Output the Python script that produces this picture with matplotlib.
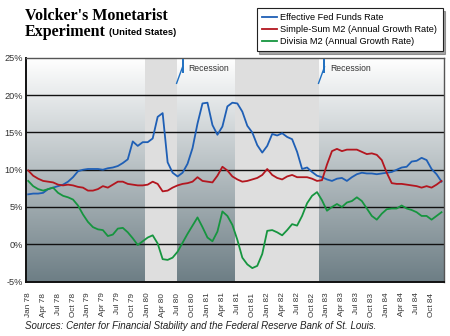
"""Volcker's monetarist experiment: fed funds rate vs M2 growth, 1978-1984."""

import matplotlib
matplotlib.use("Agg")
import matplotlib.pyplot as plt
import numpy as np

# Monthly values, Jan 1978 .. Dec 1984 (percent).
fed_funds = [6.7, 6.8, 6.8, 6.9, 7.4, 7.6, 7.8, 8.0, 8.4, 9.0, 9.8, 10.0,
             10.1, 10.1, 10.1, 10.0, 10.2, 10.3, 10.5, 10.9, 11.4, 13.8, 13.2, 13.7,
             13.7, 14.2, 17.1, 17.6, 11.0, 9.6, 9.1, 9.6, 10.8, 12.9, 16.2, 18.9,
             19.0, 16.0, 14.7, 15.8, 18.5, 19.0, 18.9, 17.8, 15.9, 15.0, 13.3, 12.3,
             13.2, 14.8, 14.6, 14.9, 14.4, 14.1, 12.4, 10.1, 10.3, 9.7, 9.2, 9.0,
             8.7, 8.5, 8.8, 8.9, 8.5, 9.0, 9.4, 9.6, 9.5, 9.5, 9.4, 9.5,
             9.6, 9.7, 10.0, 10.3, 10.4, 11.1, 11.2, 11.6, 11.3, 10.1, 9.4, 8.4]
simple_sum_m2 = [9.9, 9.2, 8.8, 8.5, 8.4, 8.3, 8.0, 7.9, 8.0, 7.9, 7.7, 7.6,
                 7.2, 7.2, 7.4, 7.8, 7.6, 8.0, 8.4, 8.4, 8.1, 8.0, 7.9, 7.9,
                 8.0, 8.4, 8.1, 7.1, 7.2, 7.6, 7.9, 8.1, 8.2, 8.4, 9.0, 8.5,
                 8.4, 8.3, 9.2, 10.4, 9.9, 9.1, 8.7, 8.4, 8.5, 8.7, 8.9, 9.3,
                 10.1, 9.3, 8.9, 8.7, 9.1, 9.3, 9.0, 9.0, 9.0, 8.8, 8.5, 8.6,
                 10.7, 12.5, 12.8, 12.5, 12.7, 12.7, 12.7, 12.4, 12.1, 12.2, 12.0, 11.3,
                 9.6, 8.2, 8.1, 8.1, 8.0, 7.9, 7.8, 7.6, 7.8, 7.6, 8.0, 8.5]
divisia_m2 = [8.5, 7.8, 7.4, 7.2, 7.4, 7.6, 6.9, 6.5, 6.3, 6.0, 5.2, 4.0,
              3.0, 2.3, 2.0, 1.9, 1.1, 1.3, 2.1, 2.2, 1.6, 0.8, -0.1, 0.4,
              0.9, 1.2, 0.1, -2.0, -2.1, -1.8, -1.0, 0.2, 1.4, 2.5, 3.6, 2.3,
              0.9, 0.4, 1.7, 4.4, 3.8, 2.6, 0.6, -1.8, -2.7, -3.2, -2.9, -1.3,
              1.8, 1.9, 1.6, 1.2, 1.9, 2.7, 2.5, 3.8, 5.5, 6.5, 7.0, 5.9,
              4.5, 5.0, 5.4, 5.0, 5.6, 5.8, 6.3, 5.8, 4.8, 3.8, 3.3, 4.1,
              4.7, 4.8, 4.8, 5.2, 4.8, 4.6, 4.3, 3.8, 3.8, 3.3, 3.8, 4.3]

quarter_names = ["Jan", "Apr", "Jul", "Oct"]
years = ["78", "79", "80", "81", "82", "83", "84"]
tick_labels = [f"{q} {y}" for y in years for q in quarter_names]
# Recessions as (start, end) month offsets from Jan 1978
recessions = [(23.5, 29.8), (41.5, 58.3)]
y_ticks = [-5, 0, 5, 10, 15, 20, 25]

SANS = ["Liberation Sans", "DejaVu Sans"]


def main() -> None:
    months = np.arange(len(fed_funds))
    fig = plt.figure(figsize=(4.5, 3.36), dpi=100)
    ax = fig.add_axes([0.0571, 0.1622, 0.9296, 0.6652])

    # white-to-slate background gradient
    gradient = np.linspace(0, 1, 256).reshape(-1, 1)
    top = np.array([1.0, 1.0, 1.0])
    bottom = np.array([0x6d, 0x7e, 0x85]) / 255
    colours = top + (bottom - top) * gradient
    ax.imshow(colours[:, None, :], extent=[0, 1, 0, 1], transform=ax.transAxes,
              aspect="auto", zorder=0, interpolation="bilinear")

    for start, end in recessions:
        ax.axvspan(start, end, color="#dedede", zorder=1, linewidth=0)
    for value in y_ticks[1:-1]:
        ax.axhline(value, color="#111111", linewidth=1.0, zorder=2)

    ax.plot(months, fed_funds, color="#1f5fb5", linewidth=1.3, zorder=3,
            label="Effective Fed Funds Rate")
    ax.plot(months, simple_sum_m2, color="#b3161f", linewidth=1.3, zorder=3,
            label="Simple-Sum M2 (Annual Growth Rate)")
    ax.plot(months, divisia_m2, color="#16953f", linewidth=1.3, zorder=3,
            label="Divisia M2 (Annual Growth Rate)")

    # "Recession" labels with the little blue flag marks
    for start, end in recessions:
        x = end + 1.2
        ax.plot([end, x], [21.6, 23.8], color="#1f6fc0", linewidth=1.0,
                zorder=4)
        ax.plot([x, x], [23.1, 24.7], color="#1f6fc0", linewidth=1.4, zorder=4)
        ax.text(x + 1.1, 23.6, "Recession", fontsize=6.2, family=SANS,
                color="#333333", va="center", ha="left", zorder=4)

    ax.set_xlim(-0.5, 83.5)
    ax.set_ylim(-5, 25)
    ax.set_yticks(y_ticks)
    ax.set_yticklabels([f"{v}%" for v in y_ticks], fontsize=6.6, family=SANS,
                       color="#333333")
    ax.set_xticks(np.arange(0, len(months), 3))
    ax.set_xticklabels(tick_labels, rotation=90, fontsize=5.9, family=SANS,
                       color="#333333")
    ax.tick_params(length=0, pad=2)
    ax.tick_params(axis="x", pad=8)
    for side in ("left", "bottom"):
        ax.spines[side].set_color("#111111")
        ax.spines[side].set_linewidth(1.4)
    for side in ("top", "right"):
        ax.spines[side].set_color("#555555")
        ax.spines[side].set_linewidth(1.0)

    fig.text(0.056, 0.952, "Volcker's Monetarist", fontsize=11.5,
             family="Liberation Serif", weight="bold", va="center")
    fig.text(0.056, 0.905, "Experiment", fontsize=11.5,
             family="Liberation Serif", weight="bold", va="center")
    fig.text(0.242, 0.902, "(United States)", fontsize=6.8, family=SANS,
             weight="bold", va="center")

    legend = fig.legend(loc="upper right", bbox_to_anchor=(0.994, 0.99),
                        prop={"family": SANS, "size": 6.6}, frameon=True,
                        fancybox=False, shadow=True, handlelength=1.6,
                        handletextpad=0.4, labelspacing=0.3,
                        borderpad=0.6)
    legend.get_frame().set_edgecolor("#222222")
    legend.get_frame().set_linewidth(0.8)

    fig.text(0.056, 0.03, "Sources: Center for Financial Stability and the "
             "Federal Reserve Bank of St. Louis.", fontsize=7.0, family=SANS,
             style="italic", color="#222222", va="center")

    fig.savefig("out.png", dpi=100)
    plt.close(fig)


if __name__ == "__main__":
    main()
